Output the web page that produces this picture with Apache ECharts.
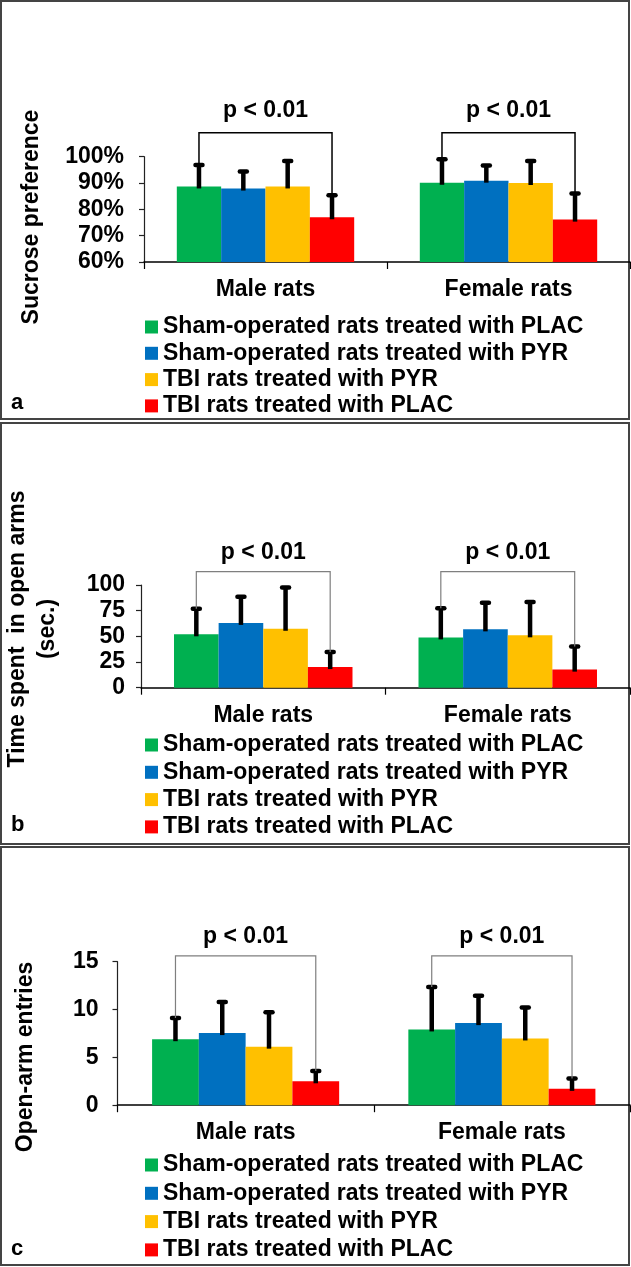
<!DOCTYPE html>
<html><head><meta charset="utf-8">
<script src="https://cdn.jsdelivr.net/npm/echarts@6/dist/echarts.min.js"></script>
<style>html,body{margin:0;padding:0;background:#fff}#c{width:631px;height:1267px}</style>
</head><body><div id="c"></div>
<script>
// ---------------- data ----------------
const categories = ['Male rats', 'Female rats'];
const seriesNames = [
  'Sham-operated rats treated with PLAC',
  'Sham-operated rats treated with PYR',
  'TBI rats treated with PYR',
  'TBI rats treated with PLAC'
];
const sigText = 'p < 0.01';

// Panel a: sucrose preference (%), per series [Male, Female]
const sucroseMean  = [[88.7, 90.1], [87.9, 90.9], [88.7, 90.0], [77.0, 76.1]];
const sucroseUpper = [[96.8, 99.0], [94.4, 96.7], [98.4, 98.4], [85.4, 86.0]];
const sucroseSigLevel = 109.1;
const sucroseTicks = {min: 60, max: 100, interval: 10};

// Panel b: time spent in open arms (sec.)
const timeMean  = [[52.0, 49.0], [63.1, 56.8], [57.4, 51.0], [20.1, 17.6]];
const timeUpper = [[76.8, 77.3], [88.6, 82.8], [97.6, 83.4], [34.8, 40.0]];
const timeSigLevel = 113;
const timeTicks = {min: 0, max: 100, interval: 25};

// Panel c: open-arm entries
const entriesMean  = [[6.9, 7.92], [7.54, 8.58], [6.12, 6.98], [2.5, 1.71]];
const entriesUpper = [[9.12, 12.35], [10.8, 11.44], [9.72, 10.22], [3.57, 2.79]];
const entriesSigLevel = 15.6;
const entriesTicks = {min: 0, max: 15, interval: 5};

// ---------------- styles ----------------
const colors = ['#00B050', '#0070C0', '#FFC000', '#FF0000'];
const FONT = 'Liberation Sans, Arial, sans-serif';
const CAT_GAP = 0.27;

const panels = [
  {mean: sucroseMean, upper: sucroseUpper, sig: sucroseSigLevel, ticks: sucroseTicks, fmt: '{value}%',
   grid: {left: 144, top: 156.7, width: 486, height: 105.3}, yMargin: 20, xMargin: 16,
   bracketColor: '#000', bracketWidth: 1.5, pOffset: 22.5,
   legendTop: 315.5, legendGap: 3.3},
  {mean: timeMean, upper: timeUpper, sig: timeSigLevel, ticks: timeTicks, fmt: '{value}',
   grid: {left: 141, top: 585, width: 489, height: 102.7}, yMargin: 16, xMargin: 16,
   bracketColor: '#7f7f7f', bracketWidth: 1.2, pOffset: 18.5,
   legendTop: 733.5, legendGap: 4.3},
  {mean: entriesMean, upper: entriesUpper, sig: entriesSigLevel, ticks: entriesTicks, fmt: '{value}',
   grid: {left: 117.5, top: 961.7, width: 512.5, height: 143.5}, yMargin: 19, xMargin: 16,
   bracketColor: '#7f7f7f', bracketWidth: 1.2, pOffset: 19,
   legendTop: 1153.5, legendGap: 5.3}
];

function barOffsetX(api, ci, si, val) {
  const band = api.size([1, 0])[0];
  const groupW = band * (1 - CAT_GAP);
  const bw = groupW / 4;
  const c = api.coord([ci, val]);
  return c[0] - groupW / 2 + (si + 0.5) * bw;
}

const option = {
  animation: false,
  backgroundColor: '#fff',
  textStyle: {fontFamily: FONT},
  grid: [], xAxis: [], yAxis: [], series: [], legend: [], graphic: []
};

panels.forEach((p, pi) => {
  option.grid.push(Object.assign({outerBoundsMode: 'none', containLabel: false}, p.grid));
  option.xAxis.push({
    type: 'category', gridIndex: pi, data: categories,
    axisLine: {show: true, lineStyle: {color: '#000', width: 1.5}},
    axisTick: {show: true, length: 7, lineStyle: {color: '#000', width: 1.2}},
    axisLabel: {fontSize: 23, fontWeight: 'bold', color: '#000', margin: p.xMargin, fontFamily: FONT},
    splitLine: {show: false}
  });
  option.yAxis.push({
    type: 'value', gridIndex: pi, min: p.ticks.min, max: p.ticks.max, interval: p.ticks.interval,
    axisLine: {show: true, lineStyle: {color: '#222', width: 1.2}},
    axisTick: {show: true, length: 5, lineStyle: {color: '#222', width: 1.2}},
    axisLabel: {fontSize: 23, fontWeight: 'bold', color: '#000', margin: p.yMargin, formatter: p.fmt, fontFamily: FONT},
    splitLine: {show: false}
  });
  seriesNames.forEach((name, si) => {
    option.series.push({
      type: 'bar', name: name, xAxisIndex: pi, yAxisIndex: pi,
      data: p.mean[si], barGap: '0%', barCategoryGap: (CAT_GAP * 100) + '%',
      itemStyle: {color: colors[si]}, z: 2
    });
  });
  // error bars
  const errData = [];
  p.mean.forEach((row, si) => row.forEach((m, ci) => errData.push([ci, si, m, p.upper[si][ci]])));
  option.series.push({
    type: 'custom', xAxisIndex: pi, yAxisIndex: pi, z: 4, clip: false,
    encode: {x: 0, y: 3}, data: errData, silent: true,
    renderItem: function (params, api) {
      const ci = api.value(0), si = api.value(1), m = api.value(2), up = api.value(3);
      const x = barOffsetX(api, ci, si, m);
      const yb = api.coord([ci, m])[1];
      const yt = api.coord([ci, up])[1];
      return {type: 'group', children: [
        {type: 'line', shape: {x1: x, y1: yb + 2, x2: x, y2: yt}, style: {stroke: '#000', lineWidth: 4.5}},
        {type: 'line', shape: {x1: x - 3.5, y1: yt, x2: x + 3.5, y2: yt}, style: {stroke: '#000', lineWidth: 4.5, lineCap: 'round'}}
      ]};
    }
  });
  // significance brackets
  const sigData = categories.map((c, ci) => [ci, p.sig, p.upper[0][ci], p.upper[3][ci]]);
  option.series.push({
    type: 'custom', xAxisIndex: pi, yAxisIndex: pi, z: 5, clip: false,
    encode: {x: 0, y: 1}, data: sigData, silent: true,
    renderItem: function (params, api) {
      const ci = api.value(0), lvl = api.value(1), l = api.value(2), r = api.value(3);
      const xl = barOffsetX(api, ci, 0, l), xr = barOffsetX(api, ci, 3, r);
      const yTop = api.coord([ci, lvl])[1];
      const yl = api.coord([ci, l])[1], yr = api.coord([ci, r])[1];
      const xc = api.coord([ci, lvl])[0];
      return {type: 'group', children: [
        {type: 'polyline', shape: {points: [[xl, yl], [xl, yTop], [xr, yTop], [xr, yr]]},
         style: {stroke: p.bracketColor, lineWidth: p.bracketWidth, fill: null}},
        {type: 'text', x: xc, y: yTop - p.pOffset,
         style: {text: sigText, fontSize: 23, fontWeight: 'bold', fontFamily: FONT, fill: '#000', align: 'center', verticalAlign: 'middle'}}
      ]};
    }
  });
  option.legend.push({
    data: seriesNames, orient: 'vertical', left: 145, top: p.legendTop, padding: 0, height: 140,
    itemWidth: 13, itemHeight: 13, itemGap: p.legendGap, icon: 'rect', selectedMode: false,
    textStyle: {fontSize: 23, fontWeight: 'bold', color: '#000', fontFamily: FONT}
  });
});

// panel frames, axis titles, panel letters
const frames = [[1, 1, 628, 418], [1, 423, 628, 421], [1, 847, 628, 418]];
frames.forEach(f => option.graphic.push({type: 'rect', shape: {x: f[0], y: f[1], width: f[2], height: f[3]},
  style: {fill: null, stroke: '#444', lineWidth: 2}, silent: true}));
const titleStyle = {fontSize: 23, fontWeight: 'bold', fontFamily: FONT, fill: '#000', align: 'center', verticalAlign: 'middle'};
option.graphic.push({type: 'text', x: 32, y: 217, rotation: Math.PI / 2,
  style: Object.assign({text: 'Sucrose preference'}, titleStyle)});
option.graphic.push({type: 'text', x: 33, y: 629, rotation: Math.PI / 2,
  style: Object.assign({text: 'Time spent  in open arms\n(sec.)', lineHeight: 30}, titleStyle)});
option.graphic.push({type: 'text', x: 26, y: 1057, rotation: Math.PI / 2,
  style: Object.assign({text: 'Open-arm entries'}, titleStyle)});
[['a', 403], ['b', 825], ['c', 1249]].forEach(l => option.graphic.push({type: 'text', x: 11, y: l[1],
  style: {text: l[0], fontSize: 22, fontWeight: 'bold', fontFamily: FONT, fill: '#000', align: 'left', verticalAlign: 'middle'}}));

const chart = echarts.init(document.getElementById('c'), null, {renderer: 'canvas'});
chart.setOption(option);
</script>
</body></html>
